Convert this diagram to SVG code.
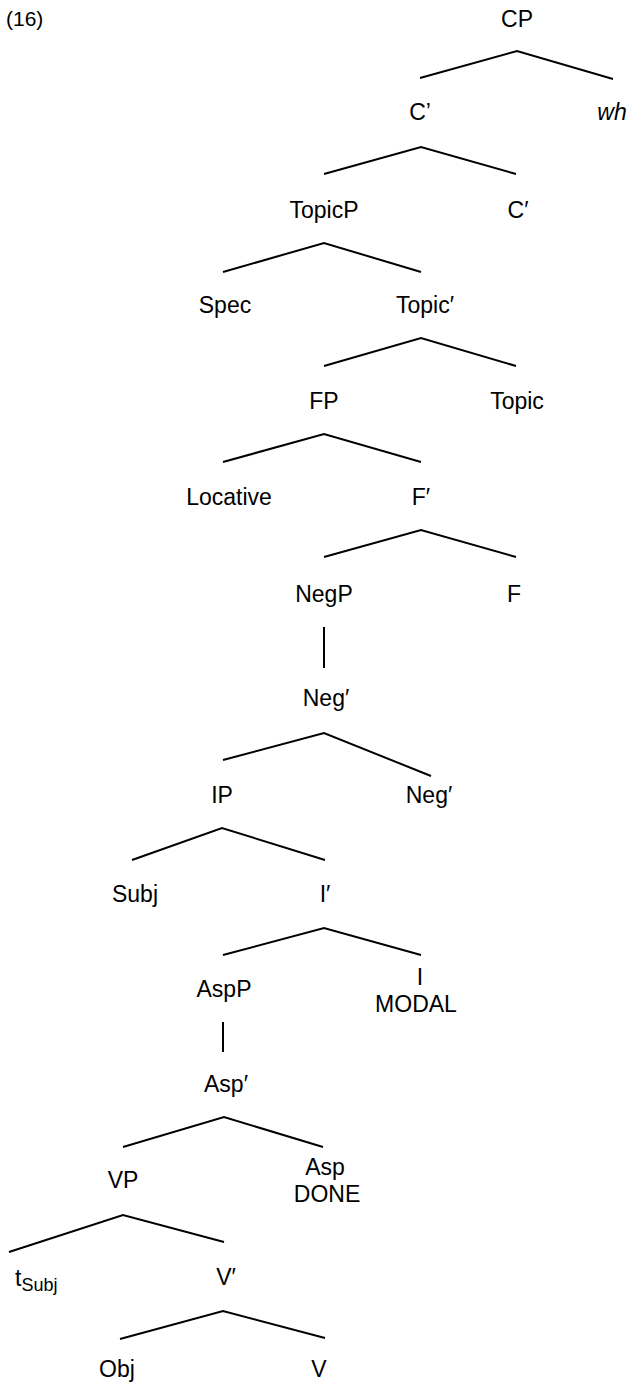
<svg xmlns="http://www.w3.org/2000/svg" width="629" height="1386" viewBox="0 0 629 1386">
<style>
.t{font-family:"Liberation Sans",Arial,sans-serif;font-size:23px;text-anchor:middle;fill:#000}
.s{font-size:18px}
.e{stroke:#000;stroke-width:2;fill:none;stroke-linejoin:miter}
</style>
<rect width="629" height="1386" fill="#fff"/>
<g id="connectors" class="e">
<polyline points="420,78 517,51 613,79"/>
<polyline points="324,174 421,147 516,174"/>
<polyline points="223,272 324,243 421,272"/>
<polyline points="324,366 421,338 516,366"/>
<polyline points="223,462 324,434 421,462"/>
<polyline points="324,557 421,530 516,557"/>
<line x1="324" y1="627" x2="324" y2="668"/>
<polyline points="223,760 324,733 431,776"/>
<polyline points="132,860 222,828 325,860"/>
<polyline points="223,955 324,928 421,955"/>
<line x1="223" y1="1022" x2="223" y2="1052"/>
<polyline points="123,1147 224,1117 323,1147"/>
<polyline points="9,1252 123,1215 224,1242"/>
<polyline points="120,1339 223,1311 325,1338"/>
</g>
<g id="label16"><text class="t" x="6" y="26" style="text-anchor:start;font-size:21px">(16)</text></g>
<g id="CP"><text class="t" x="517" y="27">CP</text></g>
<g id="C1"><text class="t" x="420" y="120">C’</text></g>
<g id="wh"><text class="t" x="612" y="120" font-style="italic">wh</text></g>
<g id="TopicP"><text class="t" x="324" y="218">TopicP</text></g>
<g id="C2"><text class="t" x="518" y="218">C′</text></g>
<g id="Spec"><text class="t" x="225" y="313">Spec</text></g>
<g id="TopicBar"><text class="t" x="425" y="313">Topic′</text></g>
<g id="FP"><text class="t" x="324" y="409">FP</text></g>
<g id="Topic"><text class="t" x="517" y="409">Topic</text></g>
<g id="Locative"><text class="t" x="229" y="505">Locative</text></g>
<g id="FBar"><text class="t" x="421" y="505">F′</text></g>
<g id="NegP"><text class="t" x="324" y="602">NegP</text></g>
<g id="F"><text class="t" x="514" y="602">F</text></g>
<g id="NegBar1"><text class="t" x="326" y="706">Neg′</text></g>
<g id="IP"><text class="t" x="222" y="803">IP</text></g>
<g id="NegBar2"><text class="t" x="429" y="803">Neg′</text></g>
<g id="Subj"><text class="t" x="135" y="902">Subj</text></g>
<g id="IBar"><text class="t" x="325" y="902">I′</text></g>
<g id="AspP"><text class="t" x="224" y="997">AspP</text></g>
<g id="I"><text class="t" x="420" y="985">I</text><text class="t" x="416" y="1012">MODAL</text></g>
<g id="AspBar"><text class="t" x="226" y="1092">Asp′</text></g>
<g id="VP"><text class="t" x="123" y="1188">VP</text></g>
<g id="Asp"><text class="t" x="325" y="1175">Asp</text><text class="t" x="327" y="1202">DONE</text></g>
<g id="tSubj"><text class="t" x="15" y="1286" style="text-anchor:start">t<tspan class="s" dy="5">Subj</tspan></text></g>
<g id="VBar"><text class="t" x="226" y="1285">V′</text></g>
<g id="Obj"><text class="t" x="117" y="1377">Obj</text></g>
<g id="V"><text class="t" x="319" y="1377">V</text></g>
</svg>
